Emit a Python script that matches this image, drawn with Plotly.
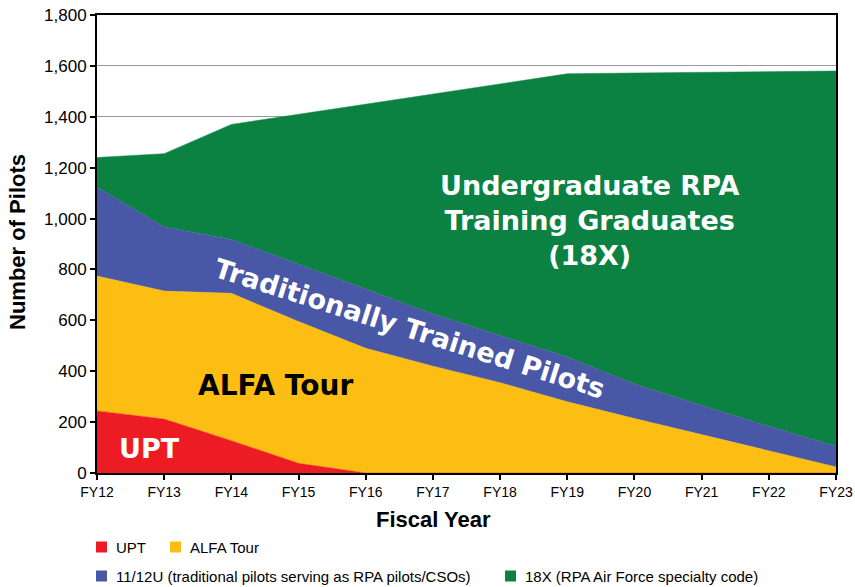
import plotly.graph_objects as go

years = ["FY12", "FY13", "FY14", "FY15", "FY16", "FY17", "FY18", "FY19", "FY20", "FY21", "FY22", "FY23"]
upt = [244, 212, 127, 38, 0, 0, 0, 0, 0, 0, 0, 0]
alfa = [530, 503, 579, 557, 490, 420, 355, 280, 214, 150, 86, 24]
trad = [349, 252, 212, 227, 233, 205, 187, 176, 136, 115, 98, 81]
x18 = [117, 288, 452, 588, 725, 863, 986, 1113, 1222, 1309, 1393, 1475]

series = [
    ("UPT", upt, "#ED1C24"),
    ("ALFA Tour", alfa, "#FCBE12"),
    ("11/12U (traditional pilots serving as RPA pilots/CSOs)", trad, "#4957A7"),
    ("18X (RPA Air Force specialty code)", x18, "#0B8242"),
]

fig = go.Figure()
for name, vals, col in series:
    fig.add_trace(go.Scatter(
        x=years, y=vals, name=name, stackgroup="one", mode="lines",
        line=dict(width=0.5, color=col), fillcolor=col, showlegend=False,
    ))

W, H = 855, 587
L, R, T, B = 97, 836, 15, 473  # plot frame in screen pixels


def px(xp):
    return (xp - L) / (R - L)


def py(yp):
    return (B - yp) / (B - T)


BIG = "DejaVu Sans"
SANS = "Liberation Sans, Arial, sans-serif"

ann = []
# in-chart labels
ann.append(dict(x=px(149), y=py(448), text="<b>UPT</b>", font=dict(family=BIG, size=27, color="white")))
ann.append(dict(x=px(275), y=py(385), text="<b>ALFA Tour</b>", font=dict(family=BIG, size=28, color="black")))
ann.append(dict(x=px(589), y=py(220), text="<b>Undergraduate RPA<br>Training Graduates<br>(18X)</b>",
                font=dict(family=BIG, size=27, color="white")))
ann.append(dict(x=px(410), y=py(328), text="<b>Traditionally Trained Pilots</b>", textangle=17.5,
                font=dict(family=BIG, size=27, color="white")))
# axis titles
ann.append(dict(x=px(433), y=py(519), text="<b>Fiscal Year</b>", font=dict(family=SANS, size=22, color="black")))
ann.append(dict(x=px(17), y=py(242), text="<b>Number of Pilots</b>", textangle=-90,
                font=dict(family=SANS, size=22, color="black")))

# legend
legend_items = [
    (96, 547, "UPT", "#ED1C24"),
    (170, 547, "ALFA Tour", "#FCBE12"),
    (96, 576, "11/12U (traditional pilots serving as RPA pilots/CSOs)", "#4957A7"),
    (505, 576, "18X (RPA Air Force specialty code)", "#0B8242"),
]
shapes = []
for xl, yc, txt, col in legend_items:
    shapes.append(dict(type="rect", xref="paper", yref="paper",
                       x0=px(xl), x1=px(xl + 11), y0=py(yc + 5.5), y1=py(yc - 5.5),
                       fillcolor=col, line=dict(width=0)))
    ann.append(dict(x=px(xl + 18), y=py(yc), text=txt, xanchor="left",
                    font=dict(family=SANS, size=15, color="black")))

for a in ann:
    a.setdefault("xref", "paper")
    a.setdefault("yref", "paper")
    a.setdefault("showarrow", False)
    a.setdefault("xanchor", "center")
    a.setdefault("yanchor", "middle")

fig.update_layout(
    width=W, height=H,
    margin=dict(l=L, r=W - R, t=T, b=H - B, autoexpand=False),
    paper_bgcolor="white", plot_bgcolor="white",
    annotations=ann, shapes=shapes,
    font=dict(family=SANS, size=14, color="black"),
    hovermode=False,
)
fig.update_xaxes(
    type="category", range=[0, 11], showgrid=False,
    showline=True, linecolor="black", linewidth=2, mirror=True,
    ticks="outside", ticklen=5, tickcolor="black", tickwidth=1.5,
    tickfont=dict(family=SANS, size=14, color="black"),
)
fig.update_yaxes(
    range=[0, 1800], tickvals=list(range(0, 1801, 200)), tickformat=",",
    showgrid=True, gridcolor="#9a9a9a", gridwidth=1,
    showline=True, linecolor="black", linewidth=2, mirror=True,
    ticks="outside", ticklen=5, tickcolor="black", tickwidth=1.5,
    tickfont=dict(family=SANS, size=17, color="black"), zeroline=False,
)

fig.write_html("out.html", config={"displayModeBar": False},
               post_script="document.body.style.margin='0';")
